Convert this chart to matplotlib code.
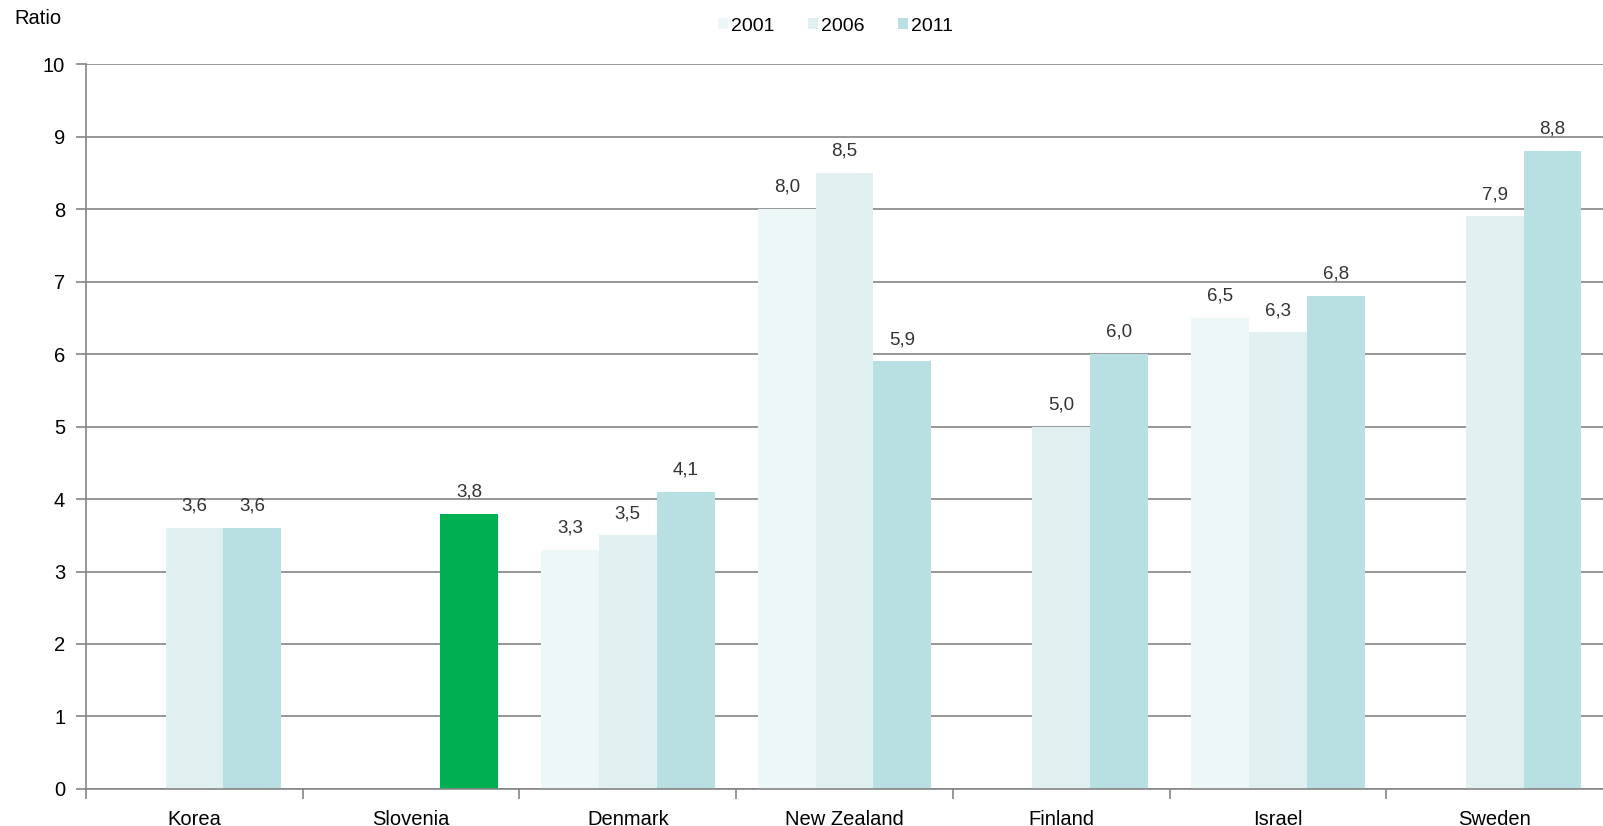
import matplotlib.pyplot as plt
import numpy as np

plt.rcParams['font.family'] = ['Liberation Sans', 'DejaVu Sans']

countries = ['Korea', 'Slovenia', 'Denmark', 'New Zealand', 'Finland', 'Israel', 'Sweden']
years = ['2001', '2006', '2011']
# None = no value for that year
v2001 = [None, None, 3.3, 8.0, None, 6.5, None]
v2006 = [3.6, None, 3.5, 8.5, 5.0, 6.3, 7.9]
v2011 = [3.6, 3.8, 4.1, 5.9, 6.0, 6.8, 8.8]

colors = ['#eef7f8', '#e0f0f1', '#b8dfe2']
highlight = 'Slovenia'
highlight_color = '#00b050'

fig = plt.figure(figsize=(16.03, 8.26), dpi=100)
ax = fig.add_axes([0.0537, 0.0448, 0.9463, 0.8777])

x = np.arange(len(countries))
w = 0.8 / 3
for i, (yr, vals) in enumerate(zip(years, [v2001, v2006, v2011])):
    for j, v in enumerate(vals):
        if v is None:
            continue
        c = colors[i]
        if countries[j] == highlight:
            c = highlight_color
        ax.bar(x[j] + (i - 1) * w, v, w, color=c, zorder=2)
        ax.text(x[j] + (i - 1) * w, v + 0.18, ('%.1f' % v).replace('.', ','),
                ha='center', va='bottom', fontsize=13.5, color='#333333')
    # legend proxy
    ax.bar(0, 0, 0, color=colors[i], label=yr)

ax.set_xlim(-0.5, len(countries) - 0.5)
ax.set_ylim(0, 10)
ax.set_yticks(range(0, 11))
ax.yaxis.grid(True, color='#858585', linewidth=1.2, zorder=0)
ax.set_axisbelow(True)

# category labels centred, tick marks on the boundaries
ax.set_xticks(x)
ax.set_xticklabels(countries, fontsize=14.5)
ax.tick_params(axis='x', length=0, pad=15)
ax.set_xticks(np.arange(len(countries)) - 0.5, minor=True)
ax.tick_params(axis='x', which='minor', length=7, color='#858585', width=1.2)
ax.tick_params(axis='y', labelsize=14.5, length=7, color='#858585', width=1.2, pad=8)

for s in ['top', 'right']:
    ax.spines[s].set_visible(False)
for s in ['left', 'bottom']:
    ax.spines[s].set_color('#858585')
    ax.spines[s].set_linewidth(1.2)

fig.text(0.009, 0.977, 'Ratio', fontsize=14.5, va='center', ha='left')

ax.legend(loc='center', bbox_to_anchor=(0.494, 1.0 + (0.9685 - 0.9225) / 0.8777), ncol=3,
          frameon=False, fontsize=14, handlelength=0.5, handleheight=0.5,
          handletextpad=0.15, columnspacing=1.75)

plt.savefig('out.png', dpi=100)
